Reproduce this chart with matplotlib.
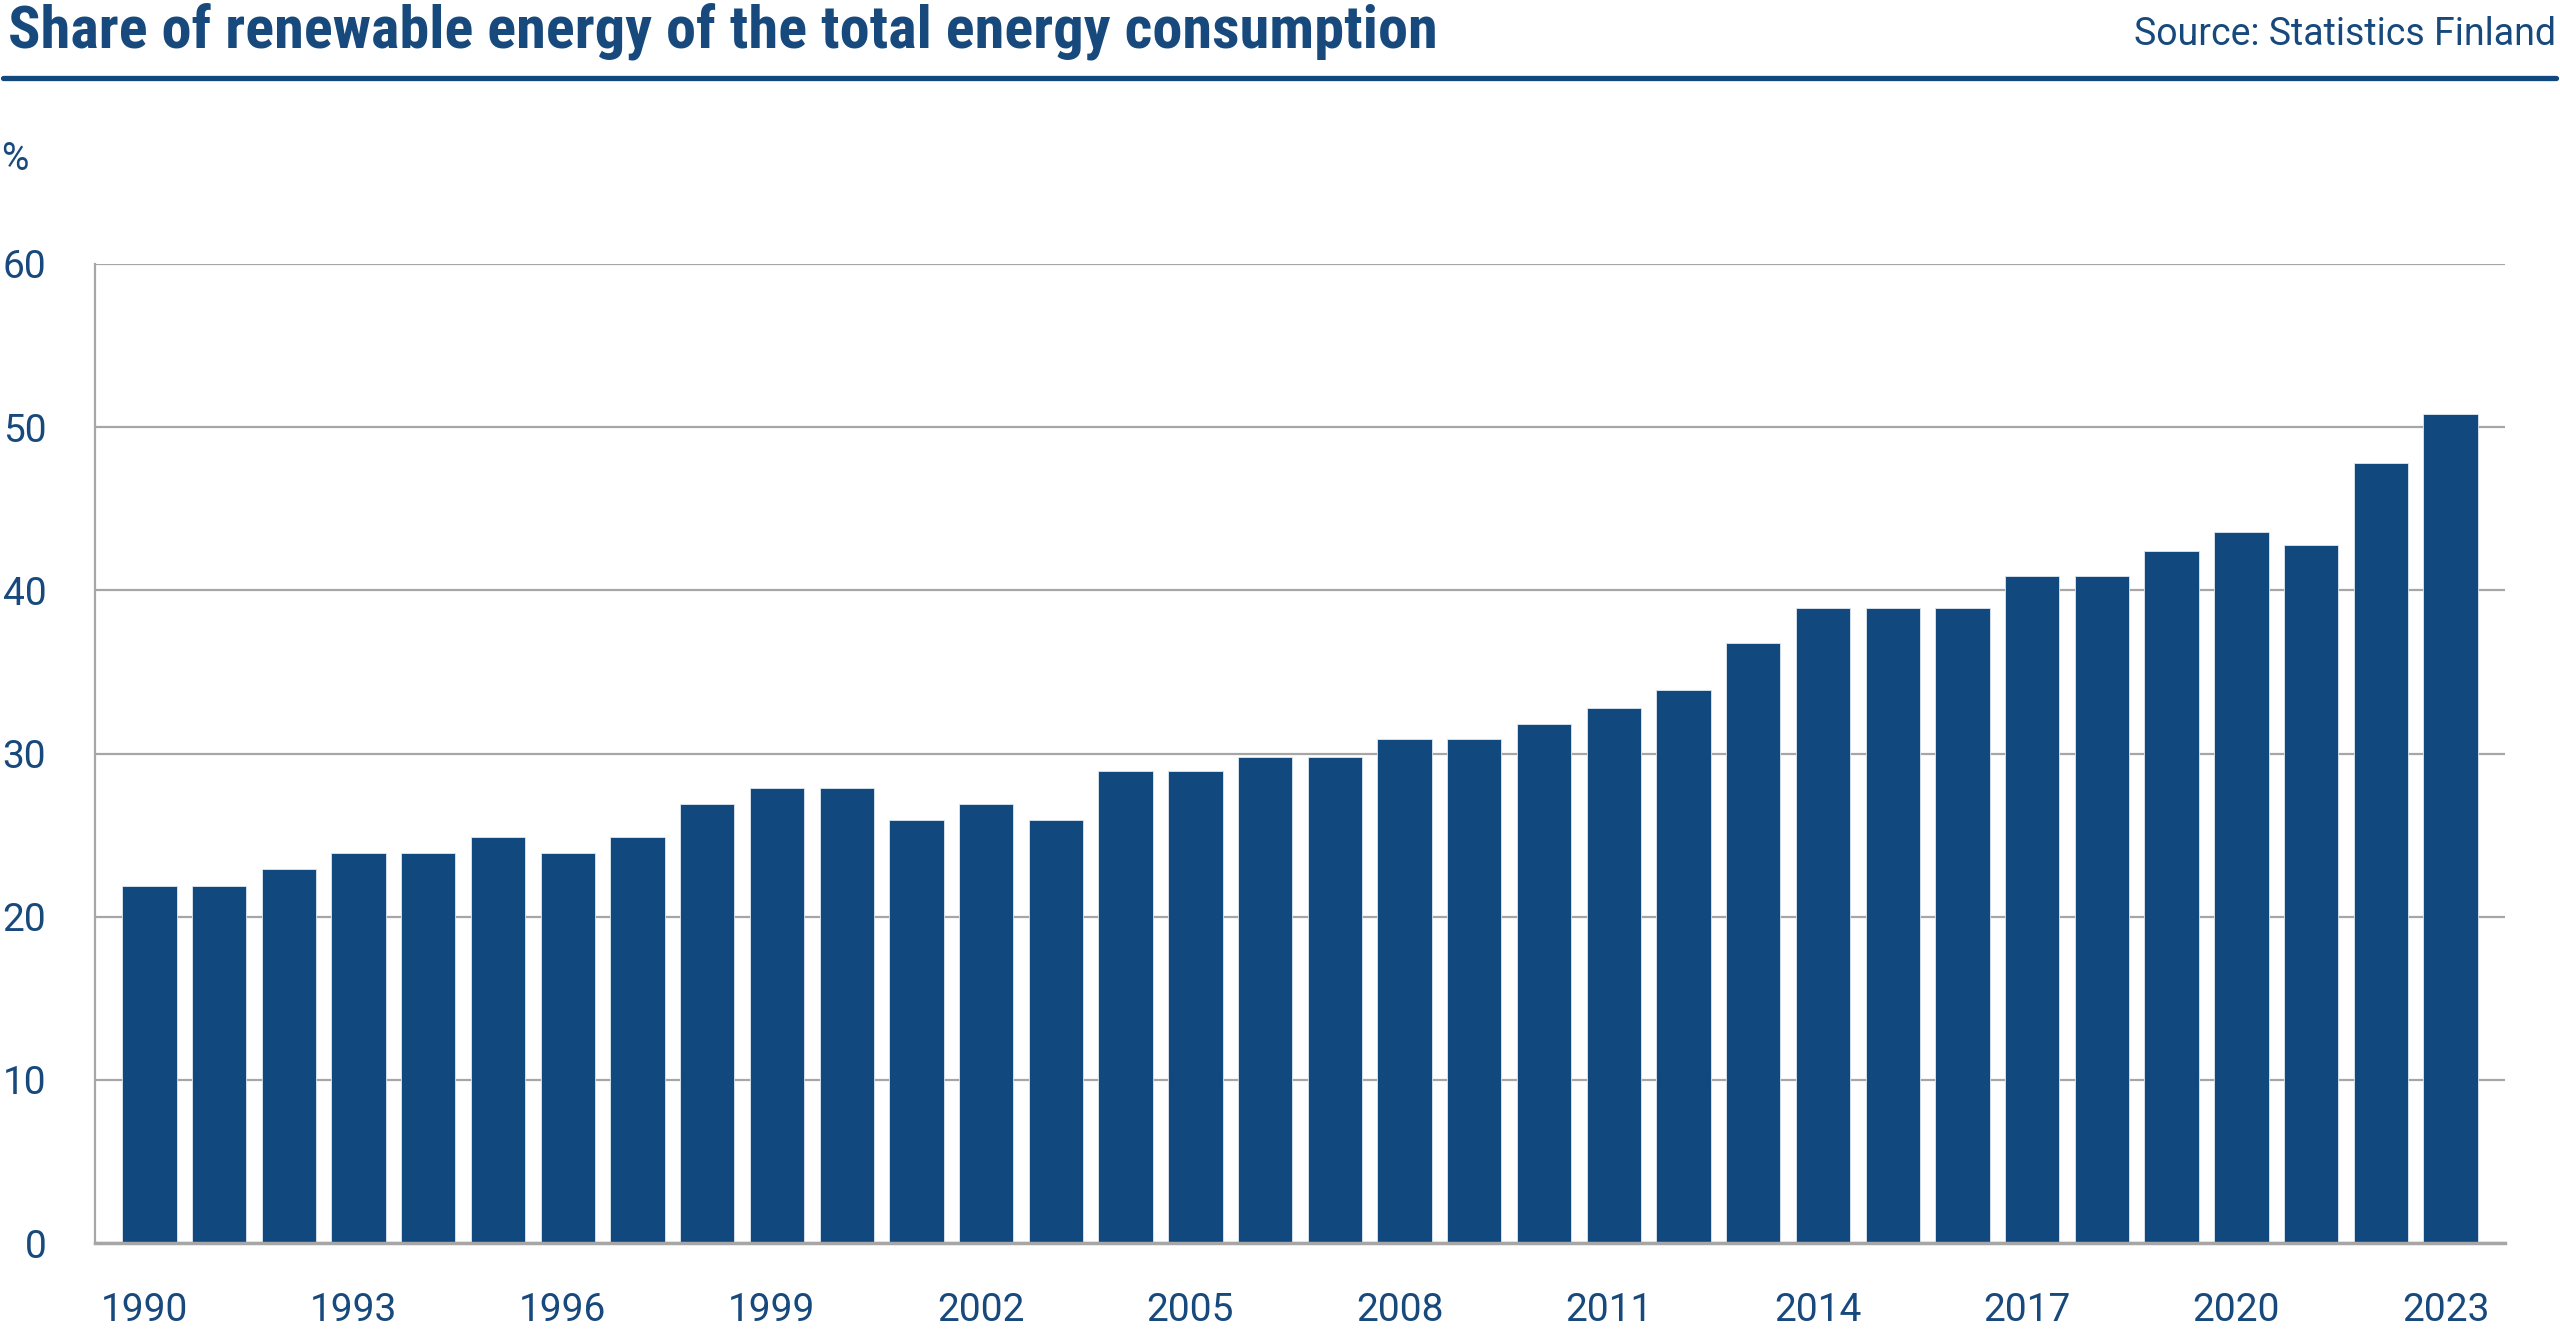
import numpy as np
import matplotlib.pyplot as plt
import matplotlib.transforms as mtransforms

# data
years = list(range(1990, 2024))
share = [21.9, 21.9, 22.9, 23.9, 23.9, 24.9, 23.9, 24.9, 26.9, 27.9,
         27.9, 25.9, 26.9, 25.9, 28.9, 28.9, 29.8, 29.8, 30.9, 30.9,
         31.8, 32.8, 33.9, 36.8, 38.9, 38.9, 38.9, 40.9, 40.9, 42.4,
         43.6, 42.8, 47.8, 50.8]
tick_years = list(range(1990, 2024, 3))
y_ticks = [0, 10, 20, 30, 40, 50, 60]

blue = '#11497e'
text_blue = '#17497d'
grid_grey = '#a6a6a6'

plt.rcParams['font.family'] = ['Roboto', 'DejaVu Sans']

fig = plt.figure(figsize=(25.6, 13.34), dpi=100)
ax = fig.add_axes([0.0371, 0.0682, 0.9414, 0.7339])

x = np.arange(len(years))
ax.bar(x, share, width=0.78, color=blue, edgecolor='#dfe8f1', linewidth=0.6, zorder=3)

ax.set_ylim(0, 60)
ax.set_xlim(-0.78, len(years) - 1 + 0.78)
ax.set_yticks(y_ticks)
ax.set_yticklabels([str(v) for v in y_ticks])
ax.set_xticks([years.index(y) for y in tick_years])
ax.set_xticklabels([str(y) for y in tick_years])

ax.grid(axis='y', color=grid_grey, linewidth=1.6, zorder=0)
for s in ['top', 'right']:
    ax.spines[s].set_visible(False)
ax.spines['left'].set_color(grid_grey)
ax.spines['left'].set_linewidth(1.6)
ax.spines['bottom'].set_color(grid_grey)
ax.spines['bottom'].set_linewidth(2.5)
ax.spines['bottom'].set_zorder(4)

ax.tick_params(axis='both', length=0, labelsize=28, colors=text_blue)
ax.tick_params(axis='y', pad=35)
ax.tick_params(axis='x', pad=35)

# nudge year labels slightly left like the reference
shift = mtransforms.ScaledTranslation(-5 / 100, 0, fig.dpi_scale_trans)
for lab in ax.get_xticklabels():
    lab.set_transform(lab.get_transform() + shift)

# header
fig.text(8 / 2560, 1 - 47 / 1334, 'Share of renewable energy of the total energy consumption',
         fontsize=43.5, fontweight='bold', color=text_blue, ha='left', va='baseline',
         family=['Roboto Condensed', 'Liberation Sans Narrow', 'Roboto'])
fig.text(2556 / 2560, 1 - 45 / 1334, 'Source: Statistics Finland',
         fontsize=27, color=text_blue, ha='right', va='baseline')
fig.add_artist(plt.Line2D([0.001, 0.9985], [1 - 77.5 / 1334] * 2, color=blue,
                          linewidth=3.8, solid_capstyle='round'))
fig.text(1 / 2560, 1 - 170 / 1334, '%', fontsize=27, color=text_blue, ha='left', va='baseline')

fig.savefig('out.png', dpi=100, facecolor='white')
